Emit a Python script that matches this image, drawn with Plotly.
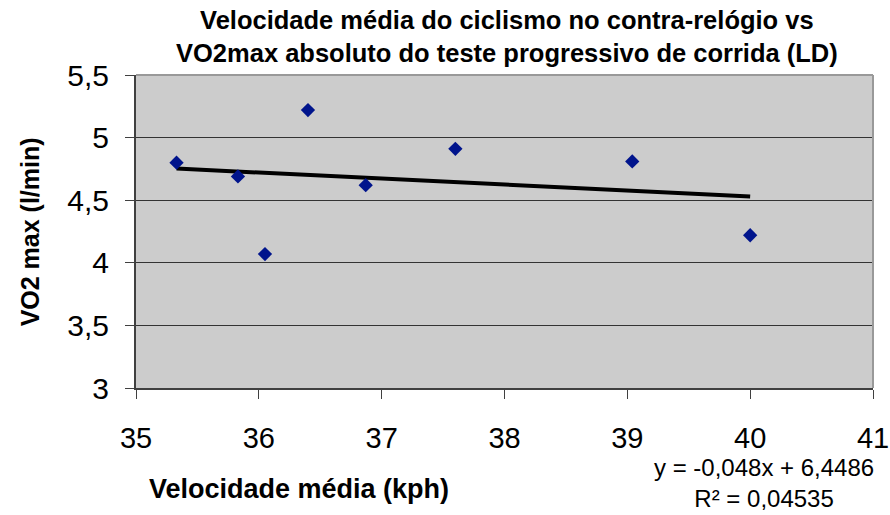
import numpy as np
import plotly.graph_objects as go

# Data
velocidade_kph = [35.33, 35.83, 36.05, 36.40, 36.87, 37.60, 39.04, 40.00]
vo2max_lmin = [4.80, 4.69, 4.07, 5.22, 4.62, 4.91, 4.81, 4.22]
trend_slope = -0.048
trend_intercept = 6.4486
r_squared_text = "0,04535"

x_ticks = [35, 36, 37, 38, 39, 40, 41]
y_ticks = [3, 3.5, 4, 4.5, 5, 5.5]
y_tick_labels = ["3", "3,5", "4", "4,5", "5", "5,5"]

title_text = "Velocidade média do ciclismo no contra-relógio vs<br>VO2max absoluto do teste progressivo de corrida (LD)"
x_title = "Velocidade média (kph)"
y_title = "VO2 max (l/min)"
eq_text = "y = -0,048x + 6,4486<br>R² = " + r_squared_text

FONT = "Liberation Sans, Arial, sans-serif"

trend_x = np.array([min(velocidade_kph), max(velocidade_kph)])
trend_y = trend_slope * trend_x + trend_intercept

fig = go.Figure()
fig.add_trace(go.Scatter(
    x=trend_x, y=trend_y, mode="lines",
    line=dict(color="black", width=4), hoverinfo="skip", showlegend=False,
))
fig.add_trace(go.Scatter(
    x=velocidade_kph, y=vo2max_lmin, mode="markers",
    marker=dict(symbol="diamond", size=11, color="#00148C", line=dict(width=0)),
    showlegend=False,
))

fig.update_layout(
    width=890, height=515,
    margin=dict(l=136, r=17, t=75, b=127),
    paper_bgcolor="white",
    plot_bgcolor="#CCCCCC",
    font=dict(family=FONT, color="black"),
    xaxis=dict(
        range=[35, 41], tickvals=x_ticks, ticktext=[str(t) for t in x_ticks],
        showgrid=False, zeroline=False, automargin=False,
        showline=True, linecolor="#404040", linewidth=2,
        ticks="outside", ticklen=9, tickcolor="#404040", tickwidth=1,
        ticklabelstandoff=14,
        tickfont=dict(family=FONT, size=29, color="black"),
    ),
    yaxis=dict(
        range=[3, 5.5], tickvals=y_ticks, ticktext=y_tick_labels,
        showgrid=True, gridcolor="#333333", gridwidth=1, zeroline=False,
        automargin=False,
        showline=True, linecolor="#404040", linewidth=2,
        ticks="outside", ticklen=9, tickcolor="#404040", tickwidth=1,
        ticklabelstandoff=10,
        tickfont=dict(family=FONT, size=30, color="black"),
    ),
    shapes=[
        dict(type="line", xref="paper", yref="paper", x0=0, x1=1, y0=1, y1=1,
             line=dict(color="#999999", width=2), layer="above"),
        dict(type="line", xref="paper", yref="paper", x0=1, x1=1, y0=0, y1=1,
             line=dict(color="#999999", width=2), layer="above"),
    ],
    annotations=[
        dict(text="<b>" + title_text + "</b>", xref="paper", yref="paper",
             x=0.503, y=1.1246, xanchor="center", yanchor="middle",
             showarrow=False, align="center",
             font=dict(family=FONT, size=25.5, color="black")),
        dict(text="<b>" + y_title + "</b>", xref="paper", yref="paper",
             x=-0.144, y=0.5, xanchor="center", yanchor="middle", textangle=-90,
             showarrow=False, font=dict(family=FONT, size=25, color="black")),
        dict(text="<b>" + x_title + "</b>", xref="paper", yref="paper",
             x=0.221, y=-0.323, xanchor="center", yanchor="middle", showarrow=False,
             font=dict(family=FONT, size=27, color="black")),
        dict(text=eq_text, xref="paper", yref="paper",
             x=0.852, y=-0.305, xanchor="center", yanchor="middle", showarrow=False,
             align="center", font=dict(family=FONT, size=24, color="black")),
    ],
)

fig.write_html("out.html", config={"displayModeBar": False},
               post_script="document.body.style.margin='0';")
